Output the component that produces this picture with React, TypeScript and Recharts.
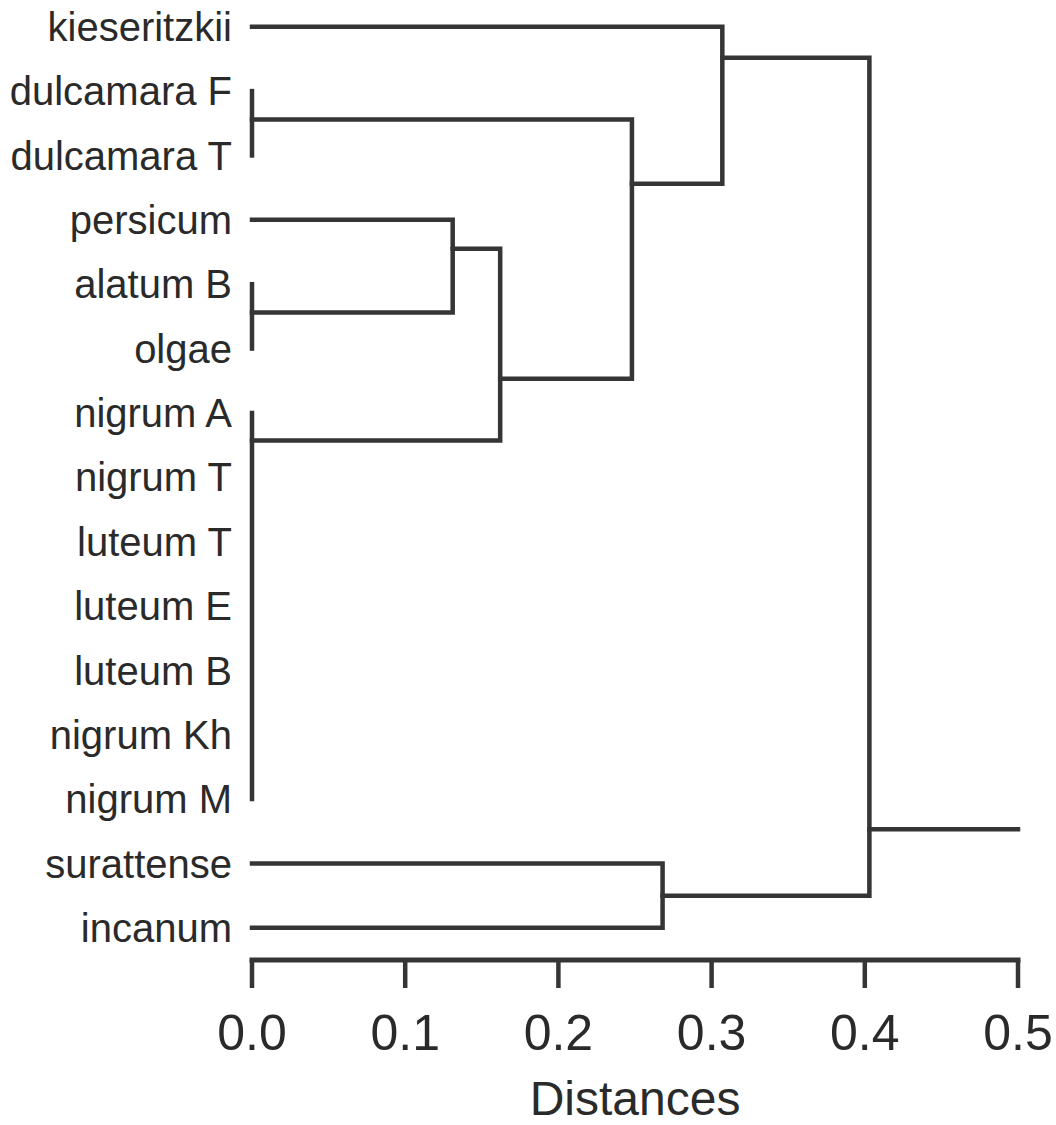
import { ComposedChart, Line, XAxis, YAxis, Label } from "recharts";

const leafNames = [
    "kieseritzkii", "dulcamara F", "dulcamara T", "persicum", "alatum B", "olgae", "nigrum A", "nigrum T",
    "luteum T", "luteum E", "luteum B", "nigrum Kh", "nigrum M", "surattense", "incanum",
];
const leafRows = leafNames.map((_, i) => i);

// clusters: children, join distance, row where the stub leaves the cluster
const clusterIds = ["dulc", "alat", "nigr", "pers", "solA", "solB", "solC", "sura", "root"];
const clusterChildren = [
    ["dulcamara F", "dulcamara T"],
    ["alatum B", "olgae"],
    ["nigrum A", "nigrum T", "luteum T", "luteum E", "luteum B", "nigrum Kh", "nigrum M"],
    ["persicum", "alat"],
    ["pers", "nigr"],
    ["dulc", "solA"],
    ["kieseritzkii", "solB"],
    ["surattense", "incanum"],
    ["solC", "sura"],
];
const clusterHeights = [0, 0, 0, 0.131, 0.162, 0.248, 0.307, 0.268, 0.403];
const clusterRows = [1.44, 4.44, 6.43, 3.45, 5.47, 2.44, 0.48, 13.5, 12.47];
const distanceTicks = [0, 0.1, 0.2, 0.3, 0.4, 0.5];
const maxDistance = 0.5;

const INK = "#353535";
const FONT = "'Liberation Sans', Arial, sans-serif";

function nodeHeight(id: string) {
    const k = clusterIds.indexOf(id);
    return k >= 0 ? clusterHeights[k] : 0;
}
function nodeRow(id: string) {
    const k = clusterIds.indexOf(id);
    return k >= 0 ? clusterRows[k] : leafNames.indexOf(id);
}

function buildPaths() {
    const paths: { x: number; y: number }[][] = [];
    clusterIds.forEach((id, k) => {
        const h = clusterHeights[k];
        const kids = [...clusterChildren[k]].sort((a, b) => nodeRow(a) - nodeRow(b));
        const first = kids[0];
        const last = kids[kids.length - 1];
        paths.push([
            { x: nodeHeight(first), y: nodeRow(first) },
            { x: h, y: nodeRow(first) },
            { x: h, y: nodeRow(last) },
            { x: nodeHeight(last), y: nodeRow(last) },
        ]);
        kids.slice(1, -1).forEach((c) => {
            if (nodeHeight(c) < h) paths.push([{ x: nodeHeight(c), y: nodeRow(c) }, { x: h, y: nodeRow(c) }]);
        });
    });
    const root = clusterIds.length - 1;
    paths.push([
        { x: clusterHeights[root], y: clusterRows[root] },
        { x: maxDistance, y: clusterRows[root] },
    ]);
    return paths;
}

export default function App() {
    const paths = buildPaths();
    return (
        <div style={{ position: "absolute", left: 0, top: 0, background: "#fff" }}>
            <ComposedChart width={1056} height={1125} margin={{ top: 1, right: 38, bottom: 0, left: 0 }}>
                <XAxis
                    type="number"
                    dataKey="x"
                    domain={[0, maxDistance]}
                    ticks={distanceTicks}
                    tickFormatter={(v) => v.toFixed(1)}
                    height={165}
                    tickSize={28}
                    tickMargin={26}
                    axisLine={{ stroke: INK, strokeWidth: 5, strokeLinecap: "square" }}
                    tickLine={{ stroke: INK, strokeWidth: 4.5 }}
                    tick={{ fontSize: 50, fill: "#2a2a2a", fontFamily: FONT }}
                >
                    <Label value="Distances" position="insideBottom" offset={10} style={{ fontSize: 48, fill: "#2a2a2a", fontFamily: FONT }} />
                </XAxis>
                <YAxis
                    type="number"
                    dataKey="y"
                    domain={[-0.4, 14.5]}
                    reversed
                    ticks={leafRows}
                    interval={0}
                    tickFormatter={(i) => leafNames[i] ?? ""}
                    width={252}
                    tickSize={0}
                    tickMargin={20}
                    axisLine={false}
                    tickLine={false}
                    tick={{ fontSize: 40, fill: "#2a2a2a", fontFamily: FONT }}
                />
                {paths.map((p, i) => (
                    <Line
                        key={i}
                        data={p}
                        dataKey="y"
                        type="linear"
                        stroke={INK}
                        strokeWidth={4.5}
                        strokeLinejoin="miter"
                        strokeLinecap="square"
                        dot={false}
                        activeDot={false}
                        legendType="none"
                        isAnimationActive={false}
                    />
                ))}
            </ComposedChart>
        </div>
    );
}
